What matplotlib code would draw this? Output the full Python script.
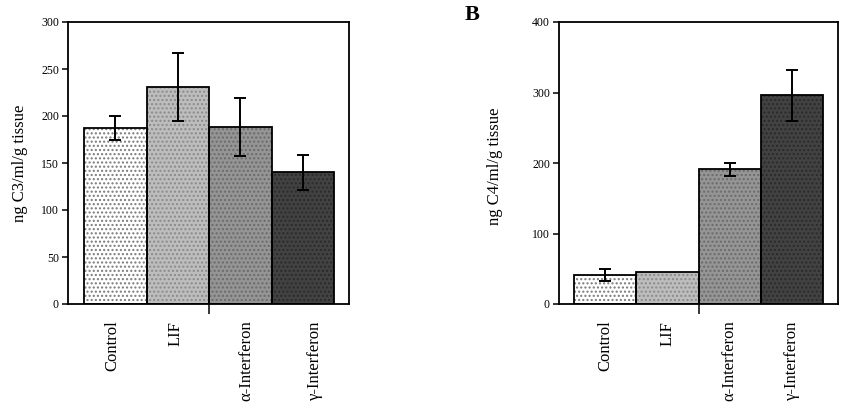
import numpy as np
import matplotlib
matplotlib.use("Agg")
import matplotlib.pyplot as plt

plt.rcParams['font.family'] = ['Liberation Serif', 'DejaVu Serif']
plt.rcParams['hatch.linewidth'] = 1.0

# data
groups = ["Control", "LIF", "\u03b1-Interferon", "\u03b3-Interferon"]
c3_mean = [187, 231, 188, 140]
c3_err = [13, 36, 31, 19]
c4_mean = [41, 45, 191, 296]
c4_err = [8, 0, 9, 36]

face = ["#ffffff", "#bdbdbd", "#959595", "#424242"]
dots = ["#7a7a7a", "#8a8a8a", "#6a6a6a", "#2a2a2a"]

fig = plt.figure(figsize=(8.42, 4.08), dpi=100)
axA = fig.add_axes([68/842, 1-304/408, 281/842, 282/408])
axB = fig.add_axes([559/842, 1-304/408, 279/842, 282/408])


def draw(ax, mean, err, ymax, step, lab_shift, xl):
    x = np.arange(len(groups))
    # texture layer, then outline layer
    for i in range(len(groups)):
        ax.bar(x[i], mean[i], width=1.0, color=face[i], edgecolor=dots[i],
               hatch='....', linewidth=0, zorder=2)
    ax.bar(x, mean, width=1.0, fill=False, edgecolor='black', linewidth=1.3, zorder=3)
    e = np.array(err)
    m = np.array(mean)
    keep = e > 0
    ax.errorbar(x[keep], m[keep], yerr=e[keep], fmt='none', ecolor='black',
                elinewidth=1.4, capsize=4, capthick=1.4, zorder=4)
    ax.set_xlim(xl)
    ax.set_ylim(0, ymax)
    ax.set_yticks(np.arange(0, ymax + 1, step))
    ax.tick_params(axis='y', direction='out', length=4.5, width=1.1, labelsize=8.5, pad=2)
    ax.set_xticks(x + np.array(lab_shift))
    ax.set_xticklabels(groups, rotation=90, fontsize=12, va='top')
    ax.tick_params(axis='x', length=0, pad=12)
    # single tick mark at the middle of the x axis
    ax.set_xticks([1.5], minor=True)
    ax.tick_params(axis='x', which='minor', direction='out', length=7, width=1.1)
    for s in ax.spines.values():
        s.set_linewidth(1.3)


draw(axA, c3_mean, c3_err, 300, 50, [-0.05, -0.04, 0.1, 0.19], (-0.76, 3.74))
draw(axB, c4_mean, c4_err, 400, 100, [0, 0, 0, 0], (-0.74, 3.74))

fig.text(20/842, 1-163/408, "ng C3/ml/g tissue", rotation=90, fontsize=12,
         ha='center', va='center')
fig.text(495/842, 1-166/408, "ng C4/ml/g tissue", rotation=90, fontsize=12,
         ha='center', va='center')
fig.text(472/842, 1-15/408, "B", fontsize=16, fontweight='bold',
         ha='center', va='center')

fig.savefig("out.png", dpi=100)
